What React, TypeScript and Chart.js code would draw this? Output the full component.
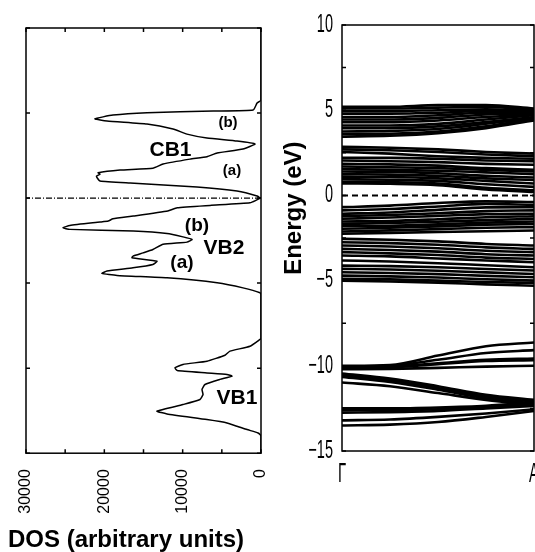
import React, { useEffect, useRef } from "react";
import { Chart, registerables } from "chart.js";

Chart.register(...registerables);

const FONT = "'Liberation Sans', Arial, Helvetica, sans-serif";

// ---------- Left panel: density of states ----------
const dosEnergy = [
  10, 5.75, 5.59, 5.18, 5.12, 5.02, 4.88, 4.66, 4.53, 4.35, 4.06, 3.76, 3.53, 3.35, 3.18,
  2.88, 2.65, 2.43, 2.29, 2.0, 1.76, 1.65, 1.49, 1.41, 1.29, 1.18, 1.0, 0.88, 0.65, 0.41,
  0.12, 0.0, -0.28, -0.43, -0.57, -0.76, -1.06, -1.22, -1.35, -1.41, -1.61, -1.75, -1.84,
  -1.94, -2.08, -2.28, -2.43, -2.59, -2.72, -3.02, -3.22, -3.41, -3.51, -3.71, -3.9, -4.1,
  -4.29, -4.43, -4.55, -4.69, -4.98, -5.28, -5.57, -5.7, -8.25, -8.31, -8.71, -9.0, -9.24,
  -9.59, -9.78, -9.98, -10.14, -10.28, -10.37, -10.47, -10.66, -10.96, -11.25, -11.55,
  -11.84, -12.14, -12.53, -12.69, -13.02, -13.22, -13.61, -13.81, -13.9, -14.0, -15,
];
const dosValue = [
  0, 0, 500, 1000, 6100, 14550, 18900, 21200, 19660, 14550, 11230, 9450, 6900, 3060, 770,
  2300, 5600, 6900, 9060, 12500, 13800, 18000, 20800, 20550, 21000, 20900, 20550, 16700, 8170, 3060,
  500, 100, 1400, 6500, 10700, 11900, 16300, 18900, 19500, 20550, 24400, 25300, 24400,
  16300, 12000, 9960, 8800, 9450, 12500, 13800, 15060, 16340, 16470, 13280, 13800, 16340,
  19660, 20300, 18380, 12000, 5600, 2300, 130, 0, 0, 130, 1400, 3960, 4600,
  6900, 9960, 10980, 10700, 6900, 4340, 3700, 5230, 7150, 7530, 7400,
  7790, 9960, 13280, 12000, 6900, 4340, 1790, 380, 130, 0, 0,
];
const dosTicks = [0, 5000, 10000, 15000, 20000, 25000, 30000];
const dosLabelled = [0, 10000, 20000, 30000];
const energyTicksMajor = [-15, -10, -5, 0, 5, 10];
const energyTicksMinor = [-15, -12.5, -10, -7.5, -5, -2.5, 0, 2.5, 5, 7.5, 10];

const dosLabelText = ["(b)", "CB1", "(a)", "(b)", "VB2", "(a)", "VB1"];
const dosLabelDos = [4210, 11550, 3700, 8170, 4720, 10090, 3060];
const dosLabelEnergy = [4.44, 2.79, 1.59, -1.65, -2.97, -3.82, -11.79];
const dosLabelSize = [15, 21, 15, 19, 21, 19, 21];

// ---------- Right panel: band structure ----------
const kPoints = [0, 0.25, 0.5, 0.75, 1];
const kLabels = ["Γ", "A"];

const bandsCB2 = [
  [5.2, 5.2, 5.3, 5.3, 5.1],
  [5.1, 5.1, 5.15, 5.2, 5.0],
  [4.95, 4.95, 5.0, 5.05, 4.95],
  [4.8, 4.8, 4.85, 4.95, 4.9],
  [4.6, 4.6, 4.7, 4.85, 4.85],
  [4.45, 4.45, 4.55, 4.75, 4.8],
  [4.3, 4.3, 4.4, 4.6, 4.75],
  [4.1, 4.1, 4.2, 4.45, 4.7],
  [3.95, 3.95, 4.05, 4.3, 4.6],
  [3.75, 3.78, 3.9, 4.2, 4.55],
  [3.6, 3.62, 3.75, 4.05, 4.5],
  [3.45, 3.5, 3.65, 3.95, 4.4],
];
const bandsCB1 = [
  [2.85, 2.8, 2.7, 2.55, 2.45],
  [2.7, 2.65, 2.55, 2.4, 2.3],
  [2.55, 2.45, 2.3, 2.2, 2.15],
  [2.2, 2.2, 2.15, 2.05, 2.0],
  [2.05, 2.0, 1.95, 1.85, 1.8],
  [1.85, 1.82, 1.75, 1.6, 1.5],
  [1.7, 1.65, 1.6, 1.5, 1.4],
  [1.55, 1.5, 1.45, 1.35, 1.25],
  [1.4, 1.38, 1.3, 1.15, 1.05],
  [1.25, 1.22, 1.15, 1.0, 0.9],
  [1.1, 1.08, 1.0, 0.85, 0.7],
  [0.95, 0.92, 0.85, 0.65, 0.5],
  [0.8, 0.78, 0.7, 0.45, 0.3],
  [0.7, 0.68, 0.6, 0.35, 0.2],
];
const bandsVB2 = [
  [-0.69, -0.6, -0.45, -0.35, -0.39],
  [-0.88, -0.8, -0.65, -0.5, -0.55],
  [-1.08, -1.0, -0.85, -0.7, -0.69],
  [-1.22, -1.15, -1.05, -0.92, -0.88],
  [-1.37, -1.3, -1.2, -1.1, -1.08],
  [-1.53, -1.5, -1.4, -1.28, -1.22],
  [-1.67, -1.62, -1.55, -1.45, -1.37],
  [-1.8, -1.78, -1.7, -1.6, -1.53],
  [-1.96, -1.9, -1.82, -1.72, -1.67],
  [-2.12, -2.05, -1.98, -1.9, -1.86],
  [-2.25, -2.2, -2.15, -2.1, -2.06],
  [-2.55, -2.6, -2.7, -2.85, -2.94],
  [-2.75, -2.8, -2.9, -3.05, -3.14],
  [-2.94, -3.0, -3.1, -3.25, -3.33],
  [-3.14, -3.2, -3.3, -3.45, -3.53],
  [-3.33, -3.4, -3.5, -3.65, -3.73],
  [-3.53, -3.58, -3.7, -3.82, -3.92],
  [-3.82, -3.88, -3.98, -4.1, -4.22],
  [-4.12, -4.15, -4.22, -4.32, -4.41],
  [-4.31, -4.35, -4.42, -4.52, -4.61],
  [-4.51, -4.55, -4.62, -4.72, -4.8],
  [-4.71, -4.75, -4.82, -4.92, -5.0],
  [-4.9, -4.93, -5.0, -5.08, -5.14],
  [-5.0, -5.05, -5.12, -5.22, -5.3],
];
const bandsVB1 = [
  [-10.0, -9.95, -9.4, -8.85, -8.63],
  [-10.05, -10.0, -9.65, -9.25, -9.08],
  [-10.1, -10.05, -9.85, -9.65, -9.57],
  [-10.15, -10.1, -9.9, -9.72, -9.67],
  [-10.2, -10.18, -10.12, -10.05, -10.0],
  [-10.45, -10.75, -11.2, -11.7, -12.0],
  [-10.55, -10.85, -11.3, -11.8, -12.1],
  [-10.65, -10.95, -11.4, -11.9, -12.2],
  [-10.98, -11.2, -11.6, -12.0, -12.3],
  [-12.5, -12.5, -12.45, -12.35, -12.15],
  [-12.6, -12.6, -12.55, -12.4, -12.25],
  [-12.75, -12.72, -12.65, -12.5, -12.35],
  [-13.2, -13.15, -13.0, -12.8, -12.55],
  [-13.5, -13.45, -13.3, -13.0, -12.65],
];

// ---------- plugins ----------
const framePlugin = {
  id: "frame",
  afterDraw(chart: any, _args: any, opts: any) {
    const { ctx, chartArea: a, scales } = chart;
    ctx.save();
    ctx.strokeStyle = "#000";
    ctx.lineWidth = opts.lineWidth ?? 1.5;
    ctx.strokeRect(a.left, a.top, a.right - a.left, a.bottom - a.top);
    const L = 4;
    ctx.beginPath();
    for (const v of opts.xTicks || []) {
      const px = scales.x.getPixelForValue(v);
      ctx.moveTo(px, a.top);
      ctx.lineTo(px, a.top + L);
      ctx.moveTo(px, a.bottom);
      ctx.lineTo(px, a.bottom - L);
    }
    for (const v of opts.yTicks || []) {
      const py = scales.y.getPixelForValue(v);
      ctx.moveTo(a.left, py);
      ctx.lineTo(a.left + L, py);
      ctx.moveTo(a.right, py);
      ctx.lineTo(a.right - L, py);
    }
    ctx.stroke();
    ctx.restore();
  },
};

const dosLabelPlugin = {
  id: "dosLabels",
  afterDatasetsDraw(chart: any) {
    const { ctx, scales } = chart;
    ctx.save();
    ctx.fillStyle = "#000";
    ctx.textAlign = "center";
    ctx.textBaseline = "middle";
    dosLabelText.forEach((t, i) => {
      ctx.font = `bold ${dosLabelSize[i]}px ${FONT}`;
      ctx.fillText(t, scales.x.getPixelForValue(dosLabelDos[i]), scales.y.getPixelForValue(dosLabelEnergy[i]));
    });
    ctx.restore();
  },
};

function condensedText(ctx: any, text: string, x: number, y: number, size: number, sx: number, align: string, baseline: string) {
  ctx.save();
  ctx.translate(x, y);
  ctx.scale(sx, 1);
  ctx.font = `${size}px ${FONT}`;
  ctx.textAlign = align;
  ctx.textBaseline = baseline;
  ctx.fillStyle = "#000";
  ctx.fillText(text, 0, 0);
  ctx.restore();
}

const bandAxisPlugin = {
  id: "bandAxis",
  afterDraw(chart: any) {
    const { ctx, chartArea: a, scales } = chart;
    for (const v of energyTicksMajor) {
      const py = scales.y.getPixelForValue(v);
      const txt = v < 0 ? "\u2212" + Math.abs(v) : String(v);
      condensedText(ctx, txt, a.left - 9, py, 25, 0.58, "right", "middle");
    }
    kLabels.forEach((t, i) => {
      const px = scales.x.getPixelForValue(kPoints[i === 0 ? 0 : kPoints.length - 1]);
      condensedText(ctx, t, px, a.bottom + 10, 27, 0.55, "center", "top");
    });
    ctx.save();
    ctx.translate(a.left - 48, scales.y.getPixelForValue(-0.75));
    ctx.rotate(-Math.PI / 2);
    ctx.font = `bold 24px ${FONT}`;
    ctx.textAlign = "center";
    ctx.textBaseline = "middle";
    ctx.fillStyle = "#000";
    ctx.fillText("Energy (eV)", 0, 0);
    ctx.restore();
  },
};

export default function App() {
  const leftRef = useRef<HTMLCanvasElement>(null);
  const rightRef = useRef<HTMLCanvasElement>(null);

  useEffect(() => {
    const left = new Chart(leftRef.current as HTMLCanvasElement, {
      type: "scatter",
      data: {
        datasets: [
          {
            data: dosEnergy.map((e, i) => ({ x: dosValue[i], y: e })),
            showLine: true,
            borderColor: "#000",
            borderWidth: 1.5,
            pointRadius: 0,
            tension: 0.15,
          },
          {
            data: [
              { x: 0, y: 0 },
              { x: 30000, y: 0 },
            ],
            showLine: true,
            borderColor: "#000",
            borderWidth: 1.2,
            borderDash: [6, 2, 1, 2],
            pointRadius: 0,
          },
        ],
      } as any,
      options: {
        animation: false,
        responsive: false,
        maintainAspectRatio: false,
        layout: { padding: { left: 8, top: 28, right: 9, bottom: 0 } },
        plugins: {
          legend: { display: false },
          tooltip: { enabled: false },
          title: {
            display: true,
            text: "DOS (arbitrary units)",
            position: "bottom",
            align: "start",
            color: "#000",
            font: { size: 24, weight: "bold", family: FONT },
            padding: { top: 10, bottom: -3 },
          },
          frame: { xTicks: dosTicks, yTicks: energyTicksMajor, lineWidth: 1.5 },
        } as any,
        scales: {
          x: {
            type: "linear",
            reverse: true,
            min: 0,
            max: 30000,
            afterBuildTicks: (s: any) => {
              s.ticks = dosLabelled.map((v) => ({ value: v }));
            },
            ticks: {
              minRotation: 90,
              maxRotation: 90,
              padding: 16,
              autoSkip: false,
              color: "#000",
              font: { size: 16, family: FONT },
              callback: (v: any) => String(v),
            },
            grid: { display: false, drawTicks: false },
            border: { display: false },
            afterFit: (s: any) => {
              s.height = 63;
              s.paddingLeft = 0;
              s.paddingRight = 0;
            },
          },
          y: {
            type: "linear",
            min: -15,
            max: 10,
            ticks: { display: false },
            grid: { display: false, drawTicks: false },
            border: { display: false },
            afterFit: (s: any) => {
              s.width = 18;
            },
          },
        } as any,
      },
      plugins: [framePlugin, dosLabelPlugin],
    });

    const allBands = [...bandsCB2, ...bandsCB1, ...bandsVB2, ...bandsVB1];
    const right = new Chart(rightRef.current as HTMLCanvasElement, {
      type: "scatter",
      data: {
        datasets: [
          ...allBands.map((b) => ({
            data: kPoints.map((k, j) => ({ x: k, y: b[j] })),
            showLine: true,
            borderColor: "#000",
            borderWidth: 2.6,
            pointRadius: 0,
            cubicInterpolationMode: "monotone",
          })),
          {
            data: [
              { x: 0, y: 0 },
              { x: 1, y: 0 },
            ],
            showLine: true,
            borderColor: "#000",
            borderWidth: 2,
            borderDash: [6, 4],
            pointRadius: 0,
          },
        ],
      } as any,
      options: {
        animation: false,
        responsive: false,
        maintainAspectRatio: false,
        layout: { padding: { left: 72, top: 25, right: 1, bottom: 101 } },
        plugins: {
          legend: { display: false },
          tooltip: { enabled: false },
          frame: { yTicks: energyTicksMinor, lineWidth: 1.5 },
        } as any,
        scales: {
          x: { type: "linear", min: 0, max: 1, display: false },
          y: { type: "linear", min: -15, max: 10, display: false },
        },
      },
      plugins: [framePlugin, bandAxisPlugin],
    });

    return () => {
      left.destroy();
      right.destroy();
    };
  }, []);

  return (
    <div style={{ position: "fixed", left: 0, top: 0, width: 535, height: 552, background: "#fff", overflow: "hidden" }}>
      <canvas ref={leftRef} width={270} height={552} style={{ position: "absolute", left: 0, top: 0 }} />
      <canvas ref={rightRef} width={265} height={552} style={{ position: "absolute", left: 270, top: 0 }} />
    </div>
  );
}
